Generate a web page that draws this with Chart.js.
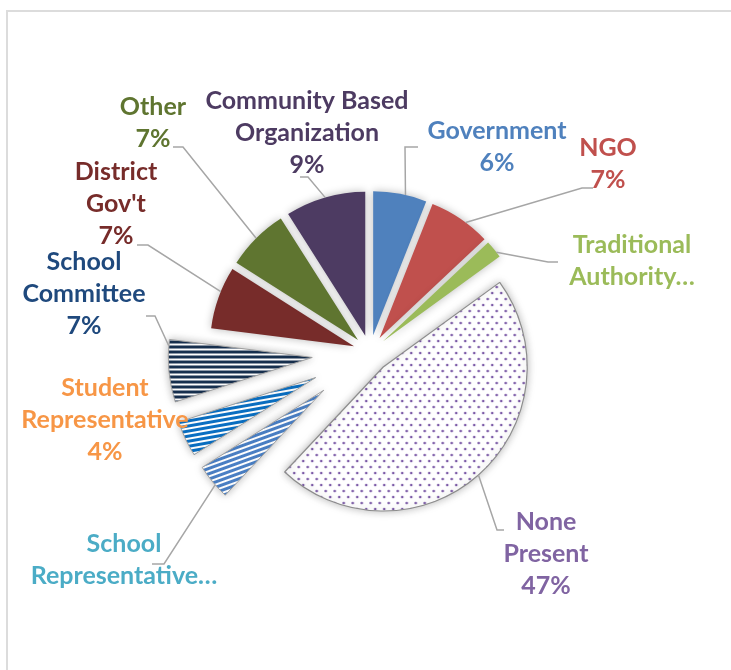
<!DOCTYPE html>
<html>
<head>
<meta charset="utf-8">
<script src="https://cdn.jsdelivr.net/npm/chart.js@4.4.1/dist/chart.umd.min.js"></script>
<style>
  html, body { margin: 0; padding: 0; background: #fff; }
  #wrap { position: relative; width: 731px; height: 670px; overflow: hidden; }
  #frame { position: absolute; left: 6px; top: 10px; right: -4px; bottom: -4px;
           border-top: 2px solid #dcdcdc; border-left: 2px solid #dcdcdc; }
  canvas { position: absolute; left: 0; top: 0; }
</style>
</head>
<body>
<div id="wrap"><div id="frame"></div><canvas id="pie" width="731" height="670"></canvas></div>
<script>
// Who was present — share of responses
const categories = ["Government", "NGO", "Traditional Authority", "None Present",
  "School Representative", "Student Representative", "School Committee",
  "District Gov't", "Other", "Community Based Organization"];
const shares = [6, 7, 2, 47, 4, 4, 7, 7, 7, 9];

// Text shown on each label (the percentage line is added unless the label is cut off)
const labelLines = [["Government"], ["NGO"], ["Traditional", "Authority…"], ["None", "Present"],
  ["School", "Representative…"], ["Student", "Representative"], ["School", "Committee"],
  ["District", "Gov't"], ["Other"], ["Community Based", "Organization"]];
const cutOff = [false, false, true, false, true, false, false, false, false, false];

const sliceColors = ["#4f81bd", "#c0504d", "#9bbb59", null, null, null, null, "#772c2a", "#5f7530", "#4d3b62"];
const textColors  = ["#4f81bd", "#c0504d", "#9bbb59", "#8064a2", "#4bacc6", "#f79646", "#1f497d", "#772c2a", "#5f7530", "#4d3b62"];

// How far each slice is pulled out of the pie (px)
const explode = [17, 17, 17, 20, 60, 60, 58, 17, 17, 17];

// Label centre (first line), leader start, elbow, and where along the slice the leader lands
const labelSpots = [
  { x: 497, y: 131, from: [418, 147], knee: [405, 147], at: 0.6 },
  { x: 608, y: 148, from: [593, 188], knee: [582, 188], at: 0.6 },
  { x: 632, y: 245, from: [558, 262], knee: [548, 262], at: 0.7 },
  { x: 546, y: 522, from: [504, 530], knee: [497, 530], at: 0.5 },
  { x: 124, y: 544, from: [152, 564], knee: [164, 564], at: 0.4 },
  { x: 105, y: 388, from: null, knee: null, at: 0.5 },
  { x: 84,  y: 262, from: [146, 316], knee: [155, 316], at: 0.9 },
  { x: 116, y: 172, from: [137, 245], knee: [148, 245], at: 0.6 },
  { x: 153, y: 107, from: [173, 147], knee: [183, 147], at: 0.5 },
  { x: 307, y: 101, from: [300, 177], knee: [308, 177], at: 0.5 }
];
const LINE_H = 32;

function stripes(color, period, ink, angle) {
  const c = document.createElement("canvas");
  c.width = 8; c.height = period;
  const g = c.getContext("2d");
  g.fillStyle = "#fff"; g.fillRect(0, 0, 8, period);
  g.fillStyle = color; g.fillRect(0, 0, 8, ink);
  const p = g.createPattern(c, "repeat");
  if (angle) p.setTransform(new DOMMatrix().rotateSelf(angle));
  return p;
}

function dots(color) {
  const c = document.createElement("canvas");
  c.width = 9; c.height = 12;
  const g = c.getContext("2d");
  g.fillStyle = "#fff"; g.fillRect(0, 0, 9, 12);
  g.fillStyle = color;
  g.beginPath(); g.arc(2, 2, 1.3, 0, Math.PI * 2); g.fill();
  g.beginPath(); g.arc(6.5, 8, 1.3, 0, Math.PI * 2); g.fill();
  return g.createPattern(c, "repeat");
}

const fills = sliceColors.slice();
fills[3] = dots("#7a58a6");
fills[4] = stripes("#4a7fc4", 5, 3, -20);
fills[5] = stripes("#0a6fc2", 5, 3, -10);
fills[6] = stripes("#17304f", 5, 3, 0);

// Pull every slice out along its own middle angle, with a soft glow round it
const baseArcDraw = Chart.ArcElement.prototype.draw;
Chart.ArcElement.prototype.draw = function (ctx) {
  const i = this.$context ? this.$context.dataIndex : 0;
  const mid = (this.startAngle + this.endAngle) / 2;
  const push = explode[i] || 0;
  ctx.save();
  ctx.translate(Math.cos(mid) * push, Math.sin(mid) * push);
  ctx.shadowColor = "rgba(0,0,0,0.28)";
  ctx.shadowBlur = 9;
  baseArcDraw.call(this, ctx);
  ctx.restore();
};

const pieLabels = {
  id: "pieLabels",
  afterDatasetsDraw(chart) {
    const ctx = chart.ctx;
    const arcs = chart.getDatasetMeta(0).data;
    const total = shares.reduce((a, b) => a + b, 0);
    ctx.save();
    ctx.strokeStyle = "#a6a6a6";
    ctx.lineWidth = 1.5;
    arcs.forEach((arc, i) => {
      const spot = labelSpots[i];
      if (!spot.from) return;
      const mid = (arc.startAngle + arc.endAngle) / 2;
      const a = arc.startAngle + spot.at * (arc.endAngle - arc.startAngle);
      const ex = arc.x + Math.cos(mid) * explode[i] + Math.cos(a) * arc.outerRadius;
      const ey = arc.y + Math.sin(mid) * explode[i] + Math.sin(a) * arc.outerRadius;
      ctx.beginPath();
      ctx.moveTo(spot.from[0], spot.from[1]);
      ctx.lineTo(spot.knee[0], spot.knee[1]);
      ctx.lineTo(ex, ey);
      ctx.stroke();
    });
    ctx.font = "bold 25px Lato, 'Open Sans', sans-serif";
    ctx.textAlign = "center";
    ctx.textBaseline = "middle";
    arcs.forEach((arc, i) => {
      const lines = labelLines[i].slice();
      if (!cutOff[i]) lines.push(Math.round(shares[i] / total * 100) + "%");
      ctx.fillStyle = textColors[i];
      lines.forEach((t, k) => ctx.fillText(t, labelSpots[i].x, labelSpots[i].y + k * LINE_H));
    });
    ctx.restore();
  }
};

new Chart(document.getElementById("pie"), {
  type: "pie",
  data: {
    labels: categories,
    datasets: [{
      data: shares,
      backgroundColor: fills,
      borderColor: ["#4f81bd", "#c0504d", "#9bbb59", "#8c8c8c", "#a0a0a0", "#a0a0a0", "#a0a0a0", "#772c2a", "#5f7530", "#4d3b62"],
      borderWidth: [0, 0, 0, 1.2, 1, 1, 1, 0, 0, 0],
      radius: 144
    }]
  },
  options: {
    responsive: false,
    animation: false,
    layout: { padding: { left: 9, top: 34, right: 0, bottom: 0 } },
    plugins: {
      legend: { display: false },
      tooltip: { enabled: false }
    }
  },
  plugins: [pieLabels]
});
</script>
</body>
</html>
